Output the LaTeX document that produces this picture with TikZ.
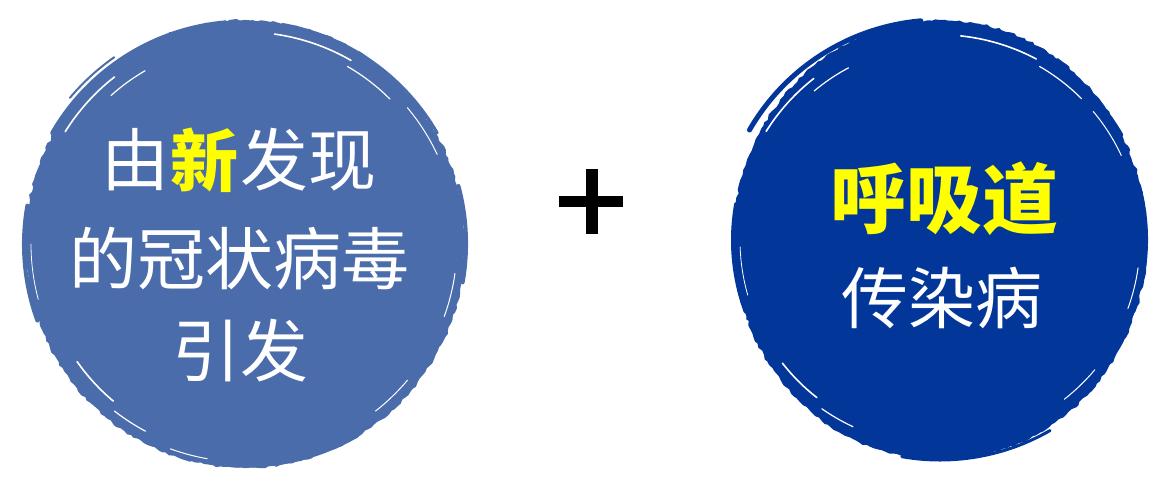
\documentclass[tikz,border=0pt]{standalone}
\usepackage{fontspec}
\usetikzlibrary{decorations.pathmorphing}
\newfontfamily\cjk{Noto Sans CJK SC}
\definecolor{lblue}{RGB}{74,108,170}
\definecolor{dblue}{RGB}{2,54,153}
\definecolor{hiyel}{RGB}{255,255,0}
\tikzset{
  rough/.style={decorate,decoration={random steps,segment length=4pt,amplitude=1.2pt}},
  streak/.style={white,line width=1.6pt,line cap=round},
  wtext/.style={text=white,font=\cjk\fontsize{68}{68}\selectfont,inner sep=0pt,anchor=center},
  ytext/.style={text=hiyel,font=\cjk\bfseries\fontsize{68}{68}\selectfont,inner sep=0pt},
}
\begin{document}
\begin{tikzpicture}[x=1pt,y=1pt]
\pgfmathsetseed{7}
\useasboundingbox (0,0) rectangle (1155,-477);
% ---------- left disc ----------
\begin{scope}[shift={(245,-244)}]
  \fill[lblue,rough] (0,0) ellipse (220 and 224);
  \draw[lblue,line width=5pt,line cap=round] (95:222) arc (95:150:222);
  \draw[lblue,line width=3pt,line cap=round] (30:222) arc (30:80:224);
  \draw[lblue,line width=4pt,line cap=round] (170:221) arc (170:200:223);
  \draw[lblue,line width=4pt,line cap=round] (-10:221) arc (-10:15:223);
  \draw[lblue,line width=3pt,line cap=round] (-100:222) arc (-100:-60:224);
  \draw[lblue,line width=2pt,line cap=round] (125:228) arc (125:140:230);
  \draw[streak] (128:212) arc (128:148:212);
  \draw[streak,line width=1.2pt] (120:200) arc (120:132:200);
  \draw[streak] (60:212) arc (60:82:212);
  \draw[streak,line width=1.2pt] (45:205) arc (45:60:205);
  \draw[streak,line width=1pt] (25:212) arc (25:40:212);
  \draw[streak,line width=1pt] (-20:212) arc (-20:-8:212);
  \draw[streak] (-130:205) arc (-130:-145:205);
  \draw[streak,line width=1.2pt] (-118:212) arc (-118:-128:212);
  \draw[streak,line width=1pt] (-100:218) arc (-100:-110:218);
  \draw[streak,line width=1pt] (-40:212) arc (-40:-52:212);
  \draw[streak,line width=0.8pt] (180:214) arc (180:195:214);
\end{scope}
\node[wtext] (l1a) at (135,-160) {由};
\node[ytext,anchor=center] (l1b) at (204,-160) {新};
\node[wtext] (l1c) at (308,-160) {发现};
\node[wtext] (l2) at (239,-259) {的冠状病毒};
\node[wtext] (l3) at (240,-351) {引发};
% ---------- plus ----------
\node[inner sep=0pt] (plus) at (592,-202) {};
\fill[black] (586,-169) rectangle (598,-234);
\fill[black] (559,-196) rectangle (623,-207);
% ---------- right disc ----------
\begin{scope}[shift={(940,-240)}]
  \fill[dblue,rough] (0,0) ellipse (207 and 220);
  \draw[dblue,line width=5pt,line cap=round] (95:220) arc (95:150:220);
  \draw[dblue,line width=3pt,line cap=round] (30:210) arc (30:80:218);
  \draw[dblue,line width=4pt,line cap=round] (170:207) arc (170:200:208);
  \draw[dblue,line width=4pt,line cap=round] (-10:206) arc (-10:15:208);
  \draw[dblue,line width=3pt,line cap=round] (-100:220) arc (-100:-60:220);
  \draw[streak] (128:205) arc (128:148:205);
  \draw[streak,line width=1.2pt] (118:195) arc (118:130:197);
  \draw[streak] (62:205) arc (62:84:207);
  \draw[streak,line width=1.2pt] (45:200) arc (45:60:202);
  \draw[streak,line width=1pt] (25:200) arc (25:40:200);
  \draw[streak,line width=1pt] (-20:200) arc (-20:-8:200);
  \draw[streak] (-128:200) arc (-128:-142:200);
  \draw[streak,line width=1.2pt] (-115:206) arc (-115:-125:206);
  \draw[streak,line width=1pt] (-40:202) arc (-40:-52:202);
  \draw[streak,line width=0.8pt] (182:200) arc (182:196:200);
\end{scope}
\node[ytext,font=\cjk\bfseries\fontsize{76}{76}\selectfont] (r1) at (944,-199) {呼吸道};
\node[wtext,font=\cjk\fontsize{67}{67}\selectfont] (r2) at (942,-298) {传染病};
\end{tikzpicture}
\end{document}
